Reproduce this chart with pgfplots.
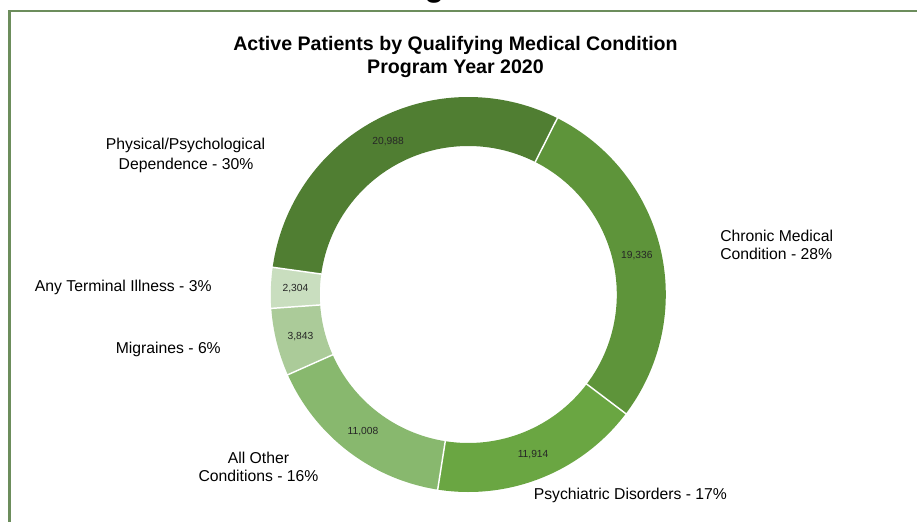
\documentclass[border=0pt]{standalone}
\usepackage{pgfplots}
\pgfplotsset{compat=1.18}
\usepackage{pgfplotstable}
\usepackage{fontspec}
\setmainfont{Liberation Sans}

\definecolor{cPhys}{RGB}{80,126,50}
\definecolor{cChron}{RGB}{94,148,58}
\definecolor{cPsych}{RGB}{106,166,66}
\definecolor{cOther}{RGB}{136,184,110}
\definecolor{cMigr}{RGB}{171,203,153}
\definecolor{cTerm}{RGB}{201,222,191}
\definecolor{cFrame}{RGB}{108,141,92}

% value per qualifying condition, clockwise from the first slice
\pgfplotstableread[col sep=comma]{
condition,value,color
Chronic Medical Condition,19336,cChron
Psychiatric Disorders,11914,cPsych
All Other Conditions,11008,cOther
Migraines,3843,cMigr
Any Terminal Illness,2304,cTerm
Physical/Psychological Dependence,20988,cPhys
}\donutdata

\def\startangle{63.2}
\def\cx{468.3}\def\cy{226.5}
\def\Rout{197.5}\def\Rin{148.5}\def\Rlab{173}
\newcommand\titlefont{\fontsize{14.7}{17}\bfseries\selectfont}
\newcommand\labfont{\fontsize{11.8}{14}\selectfont}
\newcommand\datafont{\fontsize{7.7}{9}\selectfont}

\begin{document}
\begin{tikzpicture}
\begin{axis}[
  scale only axis, width=687.75pt, height=390.75pt,
  xmin=0, xmax=917, ymin=0, ymax=521,
  hide axis, clip=false,
  /pgf/number format/assume math mode=true,
]
\coordinate (bl) at (axis cs:0,0);
\coordinate (tr) at (axis cs:917,521);
\pgfplotsextra{%
  \pgfplotstablegetrowsof{\donutdata}%
  \pgfmathtruncatemacro\lastrow{\pgfplotsretval-1}%
  \gdef\total{0}%
  \foreach \i in {0,...,\lastrow}{%
    \pgfplotstablegetelem{\i}{value}\of\donutdata
    \xdef\total{\fpeval{\total+\pgfplotsretval}}%
  }%
  \xdef\curang{\startangle}%
  \foreach \i in {0,...,\lastrow}{%
    \pgfplotstablegetelem{\i}{value}\of\donutdata
    \edef\val{\pgfplotsretval}%
    \pgfplotstablegetelem{\i}{color}\of\donutdata
    \edef\col{\pgfplotsretval}%
    \edef\aone{\curang}%
    \edef\atwo{\fpeval{\curang-360*\val/\total}}%
    \edef\amid{\fpeval{(\aone+\atwo)/2}}%
    \edef\oxa{\fpeval{\cx+\Rout*cosd(\aone)}}\edef\oya{\fpeval{\cy+\Rout*sind(\aone)}}%
    \edef\ixb{\fpeval{\cx+\Rin*cosd(\atwo)}}\edef\iyb{\fpeval{\cy+\Rin*sind(\atwo)}}%
    \edef\lx{\fpeval{\cx+\Rlab*cosd(\amid)}}\edef\ly{\fpeval{\cy+\Rlab*sind(\amid)}}%
    \fill[\col] (axis cs:\oxa,\oya)
      arc[start angle=\aone, end angle=\atwo, radius=\Rout*0.75pt]
      -- (axis cs:\ixb,\iyb)
      arc[start angle=\atwo, end angle=\aone, radius=\Rin*0.75pt] -- cycle;
    \node[font=\datafont, text=black!85] at (axis cs:\lx,\ly)
      {\pgfmathprintnumber[fixed,precision=0,1000 sep={,}]{\val}};
    \xdef\curang{\atwo}%
  }%
  \xdef\curang{\startangle}%
  \foreach \i in {0,...,\lastrow}{%
    \pgfplotstablegetelem{\i}{value}\of\donutdata
    \edef\val{\pgfplotsretval}%
    \edef\ixa{\fpeval{\cx+(\Rin-1)*cosd(\curang)}}\edef\iya{\fpeval{\cy+(\Rin-1)*sind(\curang)}}%
    \edef\oxa{\fpeval{\cx+(\Rout+1)*cosd(\curang)}}\edef\oya{\fpeval{\cy+(\Rout+1)*sind(\curang)}}%
    \draw[white, line width=1.1pt] (axis cs:\ixa,\iya) -- (axis cs:\oxa,\oya);
    \xdef\curang{\fpeval{\curang-360*\val/\total}}%
  }%
}
% frame and cut-off heading above it
\draw[cFrame, line width=1.9pt] (axis cs:9.3,-20) -- (axis cs:9.3,509.8) -- (axis cs:940,509.8);
\node[anchor=base, inner sep=0pt, font=\fontsize{24}{28}\bfseries\selectfont] at (axis cs:434.5,524.2) {g};
% title
\node[anchor=base, inner sep=0pt, font=\titlefont] at (axis cs:455.5,470) {Active Patients by Qualifying Medical Condition};
\node[anchor=base, inner sep=0pt, font=\titlefont] at (axis cs:455.5,447) {Program Year 2020};
% category labels
\begin{scope}[every node/.style={inner sep=0pt, font=\labfont}]
\node[anchor=base] at (axis cs:185.5,371) {Physical/Psychological};
\node[anchor=base] at (axis cs:186,351.7) {Dependence - 30\%};
\node[anchor=base west] at (axis cs:720,279.3) {Chronic Medical};
\node[anchor=base west] at (axis cs:720,261) {Condition - 28\%};
\node[anchor=base] at (axis cs:123.3,229) {Any Terminal Illness - 3\%};
\node[anchor=base] at (axis cs:168.3,167.7) {Migraines - 6\%};
\node[anchor=base] at (axis cs:258.5,57.7) {All Other};
\node[anchor=base] at (axis cs:258.5,39.3) {Conditions - 16\%};
\node[anchor=base west] at (axis cs:533.5,21.7) {Psychiatric Disorders - 17\%};
\end{scope}
\end{axis}
\pgfresetboundingbox
\useasboundingbox (bl) rectangle (tr);
\end{tikzpicture}
\end{document}
